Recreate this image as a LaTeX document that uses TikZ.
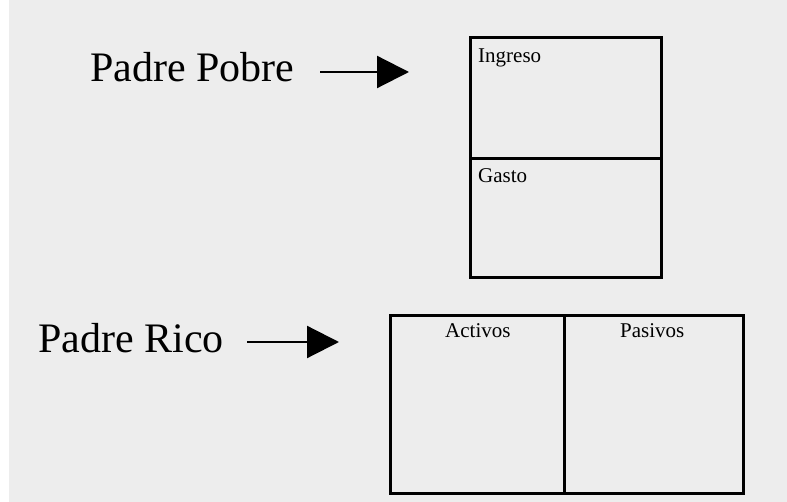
\documentclass[tikz,border=0pt]{standalone}
\usepackage{fontspec}
\setmainfont{Liberation Serif}
\usetikzlibrary{arrows.meta}

\tikzset{
  caja/.style={draw, line width=3pt, inner sep=0pt, outer sep=0pt, anchor=north west},
  flecha/.style={line width=2.2pt, -{Triangle[length=32pt,width=32pt]}},
  titulo/.style={font=\fontsize{42}{46}\selectfont, inner sep=0pt, anchor=base west},
  rotulo/.style={font=\fontsize{21}{24}\selectfont, inner sep=0pt, anchor=base west},
}

\begin{document}
\begin{tikzpicture}[x=1pt,y=-1pt]
    % Fondo de la hoja
    \useasboundingbox (0,0) rectangle (787,502);
    \fill[black!7] (9,0) rectangle (787,502);

    % Caja del padre pobre
    \node[caja, minimum width=191pt, minimum height=121pt] (ingreso) at (470,38) {};
    \node[caja, minimum width=191pt, minimum height=119pt] (gasto) at (ingreso.south west) {};

    % Caja del padre rico
    \node[caja, minimum width=174pt, minimum height=177pt] (activos) at (390,316) {};
    \node[caja, minimum width=179pt, minimum height=177pt] (pasivos) at (activos.north east) {};

    % Rotulos de las cajas
    \node[rotulo] (tIngreso) at (478,63) {Ingreso};
    \node[rotulo] (tGasto) at (478,183) {Gasto};
    \node[rotulo] (tActivos) at (445,338) {Activos};
    \node[rotulo] (tPasivos) at (620,338) {Pasivos};

    % Titulos
    \node[titulo] (pobre) at (90,82) {Padre Pobre};
    \node[titulo] (rico) at (38,353) {Padre Rico};

    % Flechas
    \coordinate (pobreIni) at (320,72);
    \coordinate (pobreFin) at (409,72);
    \coordinate (ricoIni) at (247,342);
    \coordinate (ricoFin) at (339,342);
    \draw[flecha] (pobreIni) -- (pobreFin);
    \draw[flecha] (ricoIni) -- (ricoFin);
\end{tikzpicture}
\end{document}
